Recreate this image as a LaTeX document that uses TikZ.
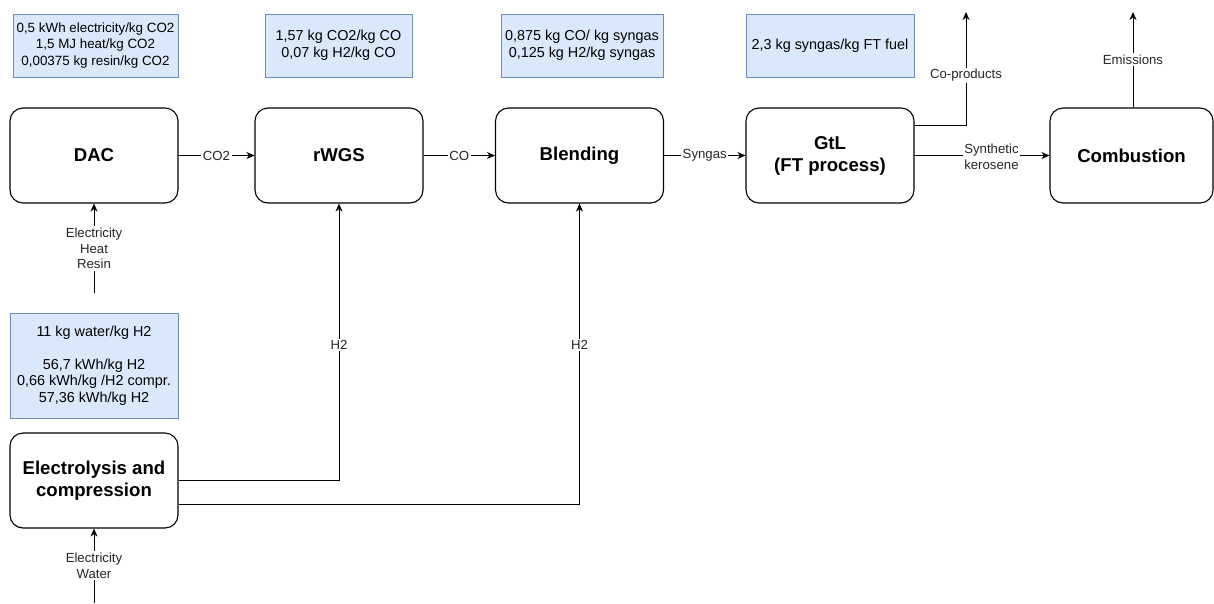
\documentclass[tikz,border=0pt]{standalone}
\usepackage{fontspec}
\setmainfont{Liberation Sans}
\usetikzlibrary{arrows.meta}
\definecolor{infofill}{HTML}{DAE8FC}
\definecolor{infoline}{HTML}{6C8EBF}
\begin{document}
\begin{tikzpicture}[x=1pt,y=-1pt,
  proc/.style={draw=black, line width=1.1pt, rounded corners=13pt, minimum width=168pt, minimum height=95pt, align=center, inner sep=2pt, font=\fontsize{18.6}{22}\selectfont\bfseries},
  info/.style={draw=infoline, fill=infofill, line width=1pt, align=center, inner sep=1pt, font=\fontsize{14.4}{16.5}\selectfont},
  elab/.style={fill=white, inner sep=1.5pt, align=center, text=black!85, font=\fontsize{13.2}{16}\selectfont},
  arr/.style={draw=black, line width=1pt, -{Stealth[length=8pt,width=7pt,inset=2.5pt]}}
]
\useasboundingbox (0,0) rectangle (1214,603);
% info boxes
\node[info, minimum width=165pt, minimum height=63pt, font=\fontsize{13.4}{16.5}\selectfont] (i1) at (95.5,45.5) {0,5 kWh electricity/kg CO2\\1,5 MJ heat/kg CO2\\0,00375 kg resin/kg CO2};
\node[info, minimum width=147pt, minimum height=63pt] (i2) at (338.5,45.5) {1,57 kg CO2/kg CO\\0,07 kg H2/kg CO};
\node[info, minimum width=162pt, minimum height=63pt] (i3) at (582,45.5) {0,875 kg CO/ kg syngas\\0,125 kg H2/kg syngas};
\node[info, minimum width=168pt, minimum height=63pt] (i4) at (830,45.5) {2,3 kg syngas/kg FT fuel};
\node[info, minimum width=168pt, minimum height=105pt] (i5) at (94,365.5) {11 kg water/kg H2\\[16.5pt]56,7 kWh/kg H2\\0,66 kWh/kg /H2 compr.\\57,36 kWh/kg H2};
% process boxes
\node[proc] (dac) at (94,155.5) {DAC};
\node[proc] (rwgs) at (339,155.5) {rWGS};
\node[proc] (blend) at (579.5,155.5) {Blending};
\node[proc] (gtl) at (830,155.5) {GtL\\(FT process)};
\node[proc, minimum width=163pt] (comb) at (1131.5,155.5) {Combustion};
\node[proc] (el) at (94,480.5) {Electrolysis and\\compression};
% free ends
\coordinate (dacin) at (94,293);
\coordinate (elin) at (94,603);
\coordinate (cop) at (966,12);
\coordinate (em) at (1133,12);
% connectors
\draw[arr] (dac) -- node[elab]{CO2} (rwgs);
\draw[arr] (rwgs) -- node[elab]{CO} (blend);
\draw[arr] (blend) -- node[elab]{Syngas} (gtl);
\draw[arr] (gtl) -- node[elab, pos=0.57, yshift=-1pt]{Synthetic\\kerosene} (comb);
\draw[arr] ([yshift=30pt]gtl.east) -| node[elab, pos=0.72]{Co-products} (cop);
\draw[arr] (comb.north -| em) -- node[elab, pos=0.5]{Emissions} (em);
\draw[arr] (dacin) -- node[elab]{Electricity\\Heat\\Resin} (dac.south);
\draw[arr] (elin) -- node[elab]{Electricity\\Water} (el.south);
\draw[arr] (el.east) -| node[elab, pos=0.745]{H2} (rwgs.south);
\draw[arr] ([yshift=-23.5pt]el.east) -| node[elab, pos=0.765]{H2} (blend.south);
\end{tikzpicture}
\end{document}
